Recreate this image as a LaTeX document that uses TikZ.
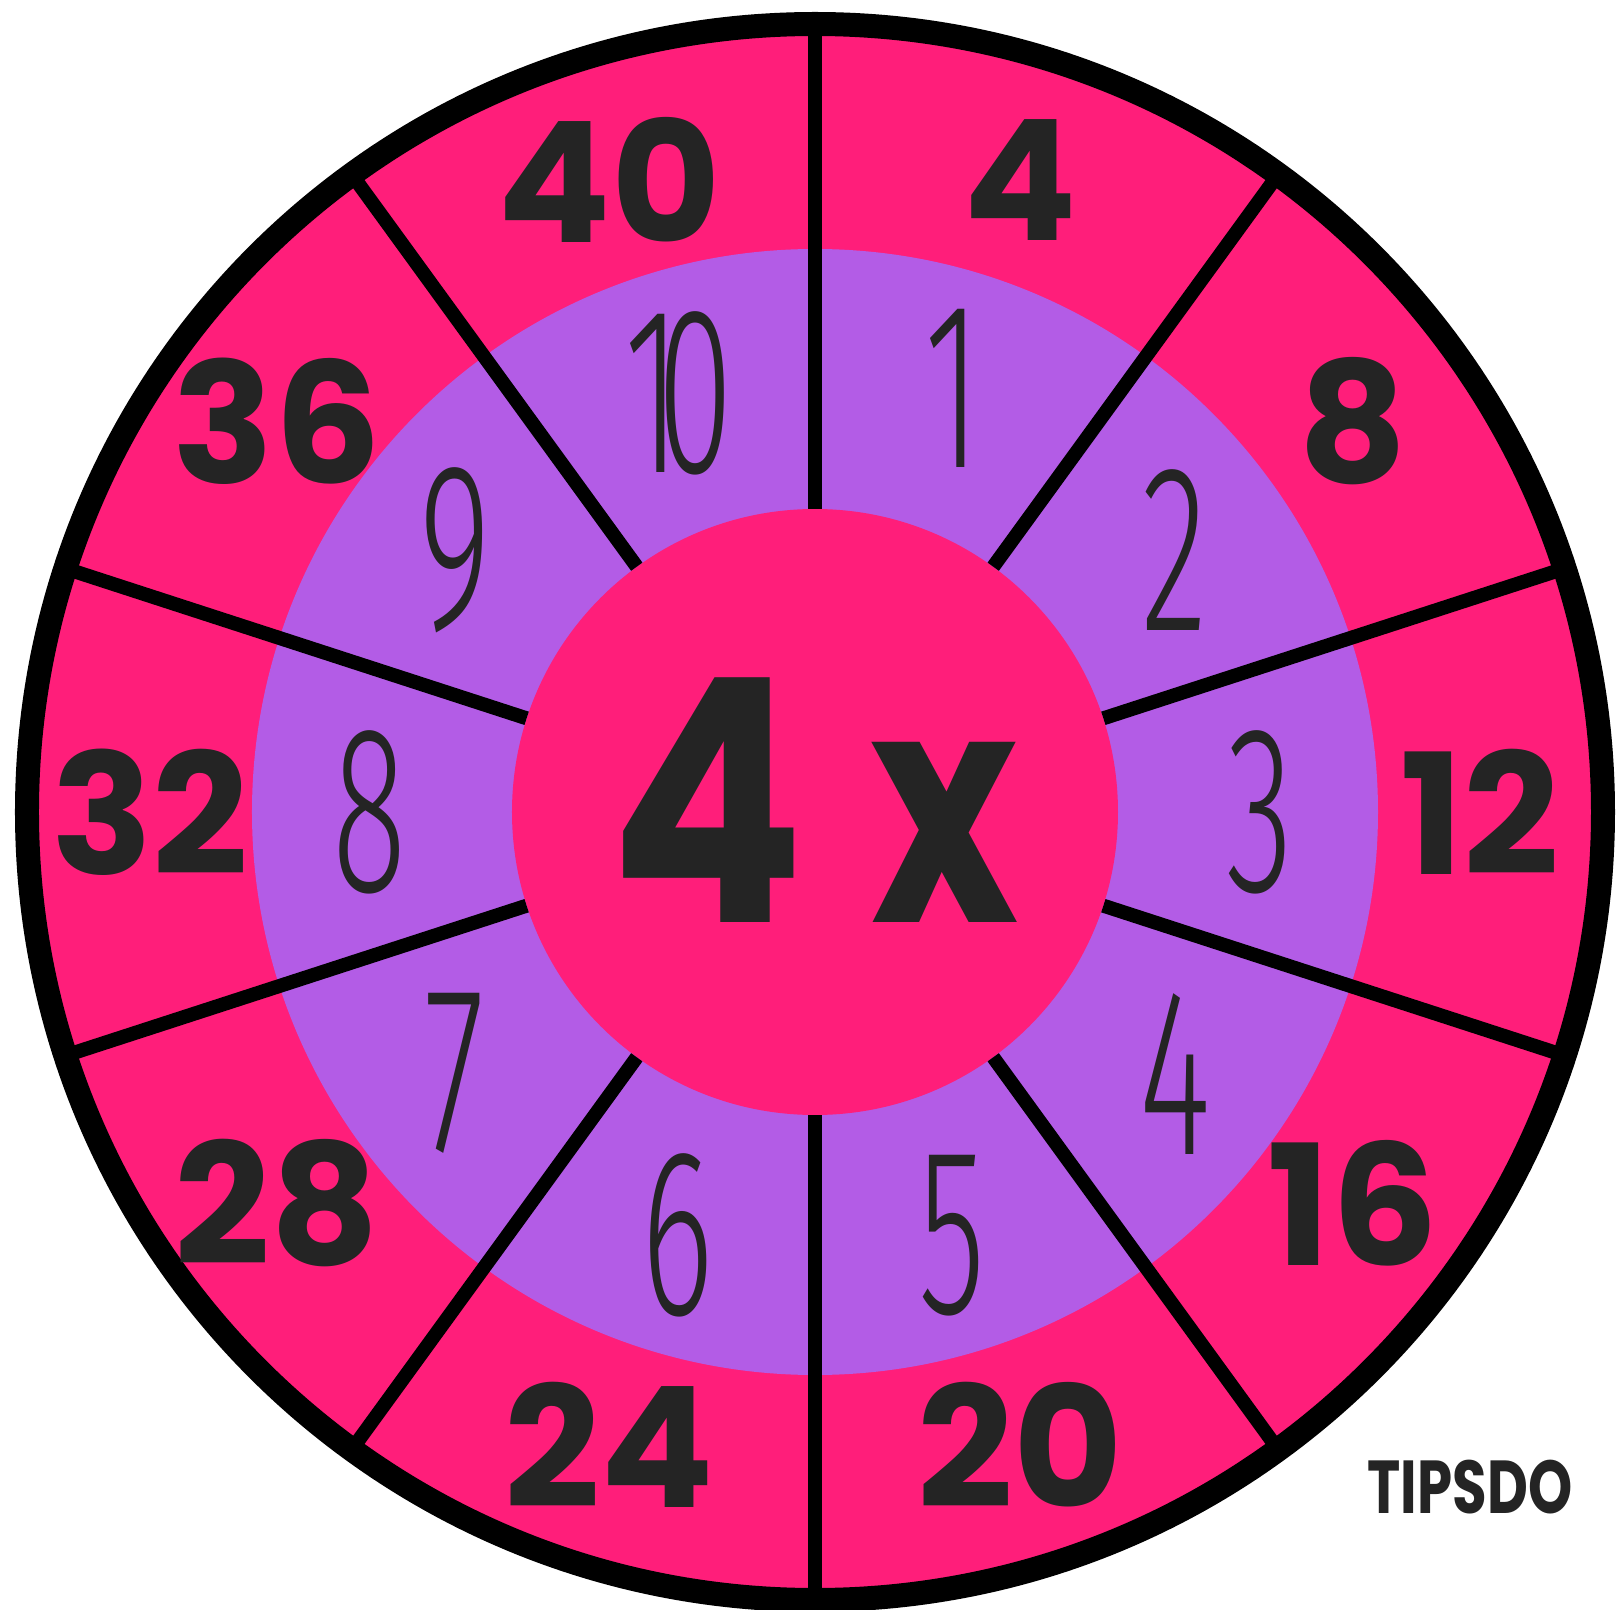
\documentclass[tikz,border=0pt]{standalone}
\usepackage{fontspec}
\newfontfamily\heavyfont{Poppins}
\IfFontExistsTF{Fira Sans Light}{\newfontfamily\thinfont{Fira Sans Light}}{%
  \IfFontExistsTF{Poppins Light}{\newfontfamily\thinfont{Poppins Light}}{%
    \IfFontExistsTF{Lato Light}{\newfontfamily\thinfont{Lato Light}}{%
      \newfontfamily\thinfont{Latin Modern Sans}}}}
\definecolor{hotpink}{RGB}{255,30,122}
\definecolor{lilac}{RGB}{179,92,230}
\definecolor{ink}{RGB}{36,36,36}
\begin{document}
\begin{tikzpicture}[x=1pt,y=1pt,
  outernum/.style={text=ink, font=\heavyfont\bfseries\fontsize{168}{168}\selectfont, inner sep=0pt},
  innernum/.style={text=ink, font=\thinfont\fontsize{238}{238}\selectfont, inner sep=0pt},
  divider/.style={line width=14pt, black},
]
\useasboundingbox (-815,-797) rectangle (802,812);
\fill[white] (-815,-797) rectangle (802,812);
\fill[hotpink] (0,0) circle (790);
\fill[lilac] (0,0) circle (563);
\node[circle, fill=hotpink, minimum size=606pt, inner sep=0pt] (hub) at (0,0) {};
\foreach \a in {90,54,18,-18,-54,-90,-126,-162,-198,-234}
  \draw[divider] (hub.\a) -- (\a:786);
\draw[line width=24pt] (0,0) circle (788);
\foreach \k/\o/\i in {0/4/1,1/8/2,2/12/3,3/16/4,4/20/5,5/24/6,6/28/7,7/32/8,8/36/9} {
  \node[outernum] (o\k) at ({72-36*\k}:665) {\o};
  \node[innernum] (i\k) at ({72-36*\k}:445) {\scalebox{0.58}[1]{\i}};
}
\node[outernum] (o9) at (108:665) {40};
\node[innernum] (i9) at (108:440) {\scalebox{0.58}[1]{1\kern-40pt 0}};
\node[font=\heavyfont\bfseries\fontsize{340}{340}\selectfont, text=ink, anchor=base, inner sep=0pt] (title) at (-1,-110) {\scalebox{0.85}[1]{4}\kern65pt\scalebox{0.74}[0.95]{x}};
\node[font=\heavyfont\bfseries\fontsize{75}{75}\selectfont, text=ink, inner sep=0pt] (brand) at (655,-675) {\scalebox{0.75}[1]{TIPSDO}};
\end{tikzpicture}
\end{document}
